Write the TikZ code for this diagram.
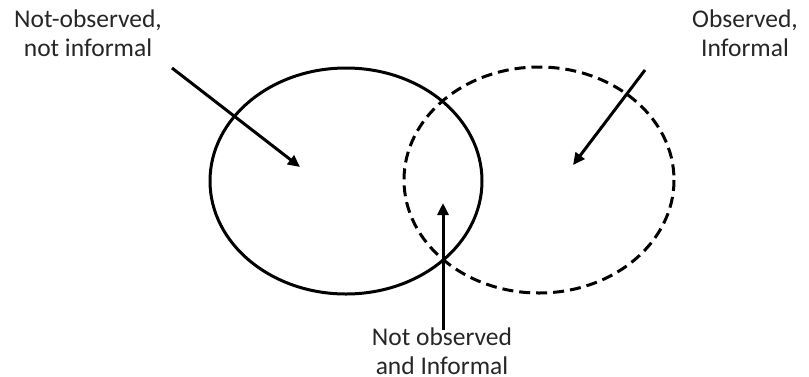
\documentclass[tikz,border=0pt]{standalone}
\usepackage{fontspec}
\setmainfont{Carlito}
\usetikzlibrary{arrows.meta}
\begin{document}
\begin{tikzpicture}[x=1pt,y=-1pt,
  lbl/.style={align=center,inner sep=0pt,font=\fontsize{25.5}{29}\selectfont,text=black!85},
  ring/.style={line width=3pt},
  dashring/.style={line width=3pt,dash pattern=on 11pt off 6pt},
  arr/.style={line width=3pt,-{Triangle[length=12pt,width=11pt]}}]
\useasboundingbox (0,0) rectangle (809,376);
\draw[ring] (346,181) ellipse [x radius=136, y radius=113];
\draw[dashring] (539,180) ellipse [x radius=135, y radius=113];
\node[lbl] (t1) at (88,33) {Not-observed,\\not informal};
\node[lbl] (t2) at (745,33) {Observed,\\Informal};
\node[lbl] (t3) at (442,351) {Not observed\\and Informal};
\coordinate (a1s) at (172,68);
\coordinate (a1e) at (300,167);
\coordinate (a2s) at (645,70);
\coordinate (a2e) at (573,165);
\coordinate (a3s) at (443,330);
\coordinate (a3e) at (443,203);
\draw[arr] (a1s) -- (a1e);
\draw[arr] (a2s) -- (a2e);
\draw[arr] (a3s) -- (a3e);
\end{tikzpicture}
\end{document}
